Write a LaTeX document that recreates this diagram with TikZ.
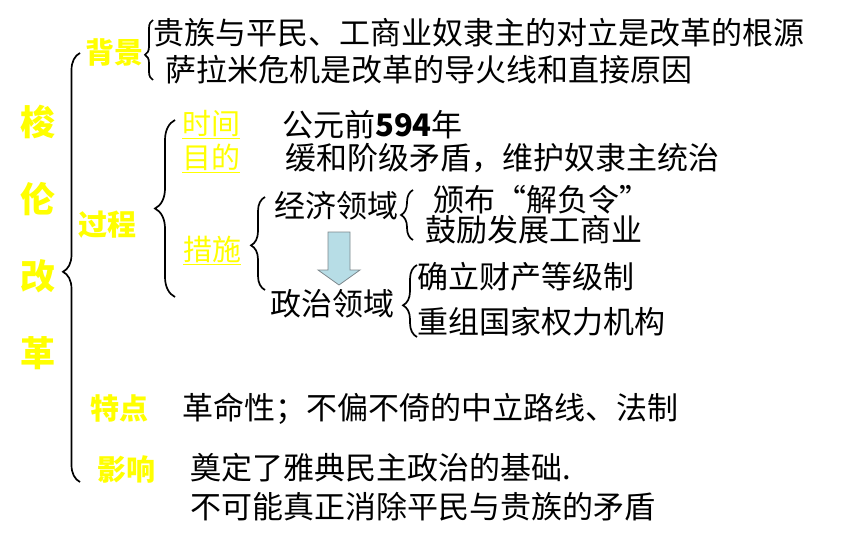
\documentclass[tikz,border=0pt]{standalone}
\usepackage{fontspec}
\setmainfont{Noto Sans CJK SC}
\usetikzlibrary{positioning,decorations.pathreplacing}

\definecolor{labelyellow}{RGB}{255,255,0}
\definecolor{arrowblue}{RGB}{183,221,230}
\definecolor{arrowgray}{RGB}{125,135,140}

\begin{document}
\begin{tikzpicture}[
  x=1pt,
  y=-1pt,
  title/.style={
    text=labelyellow,
    font=\fontsize{35}{77}\selectfont\bfseries,
    align=center,
    inner sep=0pt
  },
  label/.style={
    anchor=west,
    text=labelyellow,
    font=\fontsize{29}{34}\selectfont\bfseries,
    inner sep=0pt
  },
  sublabel/.style={
    label,
    font=\fontsize{29}{34}\selectfont
  },
  body/.style={
    anchor=west,
    text=black,
    font=\fontsize{31}{36}\selectfont,
    inner sep=0pt
  },
  brace/.style={
    decorate,
    decoration={brace, amplitude=#1},
    line width=1.7pt,
    draw=black
  },
  blockarrow/.style={
    fill=arrowblue,
    draw=arrowgray,
    line width=0.8pt
  }
]
\useasboundingbox (0,0) rectangle (850,537);

% Title
\node[title] (title) at (38,237) {梭\\伦\\改\\革};
\coordinate (bigb) at (80,482);
\coordinate (bigt) at (80,53);
\draw[brace=17pt, decoration={aspect=0.49}] (bigb) -- (bigt);

% Background
\node[label] (bg) at (85,52) {背景};
\coordinate (bgb) at (153,80);
\coordinate (bgt) at (153,20);
\draw[brace=8pt, decoration={aspect=0.42}] (bgb) -- (bgt);
\node[body] (bg1) at (153,33) {贵族与平民、工商业奴隶主的对立是改革的根源};
\node[body] (bg2) at (165,70) {萨拉米危机是改革的导火线和直接原因};

% Process
\node[label] (gc) at (78,225) {过程};
\coordinate (gcb) at (175,297);
\coordinate (gct) at (175,120);
\draw[brace=20pt, decoration={aspect=0.5}] (gcb) -- (gct);
\node[sublabel] (sj) at (182,125) {\underline{时间}};
\node[sublabel] (md) at (182,158) {\underline{目的}};
\node[sublabel] (cs) at (183,250) {\underline{措施}};
\node[body] (year) at (282,125) {公元前\textbf{594}年};
\node[body] (aim) at (285,158) {缓和阶级矛盾，维护奴隶主统治};

% Measures
\coordinate (csb) at (265,290);
\coordinate (cst) at (265,197);
\draw[brace=14pt, decoration={aspect=0.48}] (csb) -- (cst);
\node[body] (jj) at (274,206) {经济领域};
\node[body] (zz) at (270,304) {政治领域};
\coordinate (arw) at (339,232);
\draw[blockarrow] (arw) ++(-11,0) -- ++(22,0) -- ++(0,38) -- ++(10,0)
  -- ++(-21,15) -- ++(-21,-15) -- ++(10,0) -- cycle;

% Economy
\coordinate (jjb) at (413,240);
\coordinate (jjt) at (413,190);
\draw[brace=12pt, decoration={aspect=0.5}] (jjb) -- (jjt);
\node[body] (jj1) at (433,200) {颁布“解负令”};
\node[body] (jj2) at (425,230) {鼓励发展工商业};

% Politics
\coordinate (zzb) at (417,337);
\coordinate (zzt) at (417,265);
\draw[brace=14pt, decoration={aspect=0.44}] (zzb) -- (zzt);
\node[body] (zz1) at (417,277) {确立财产等级制};
\node[body] (zz2) at (417,322) {重组国家权力机构};

% Features
\node[label] (td) at (90,408) {特点};
\node[body] (td1) at (182,409) {革命性；不偏不倚的中立路线、法制};

% Influence
\node[label] (yx) at (97,469) {影响};
\node[body] (yx1) at (190,468) {奠定了雅典民主政治的基础.};
\node[body] (yx2) at (190,507) {不可能真正消除平民与贵族的矛盾};

\end{tikzpicture}
\end{document}
